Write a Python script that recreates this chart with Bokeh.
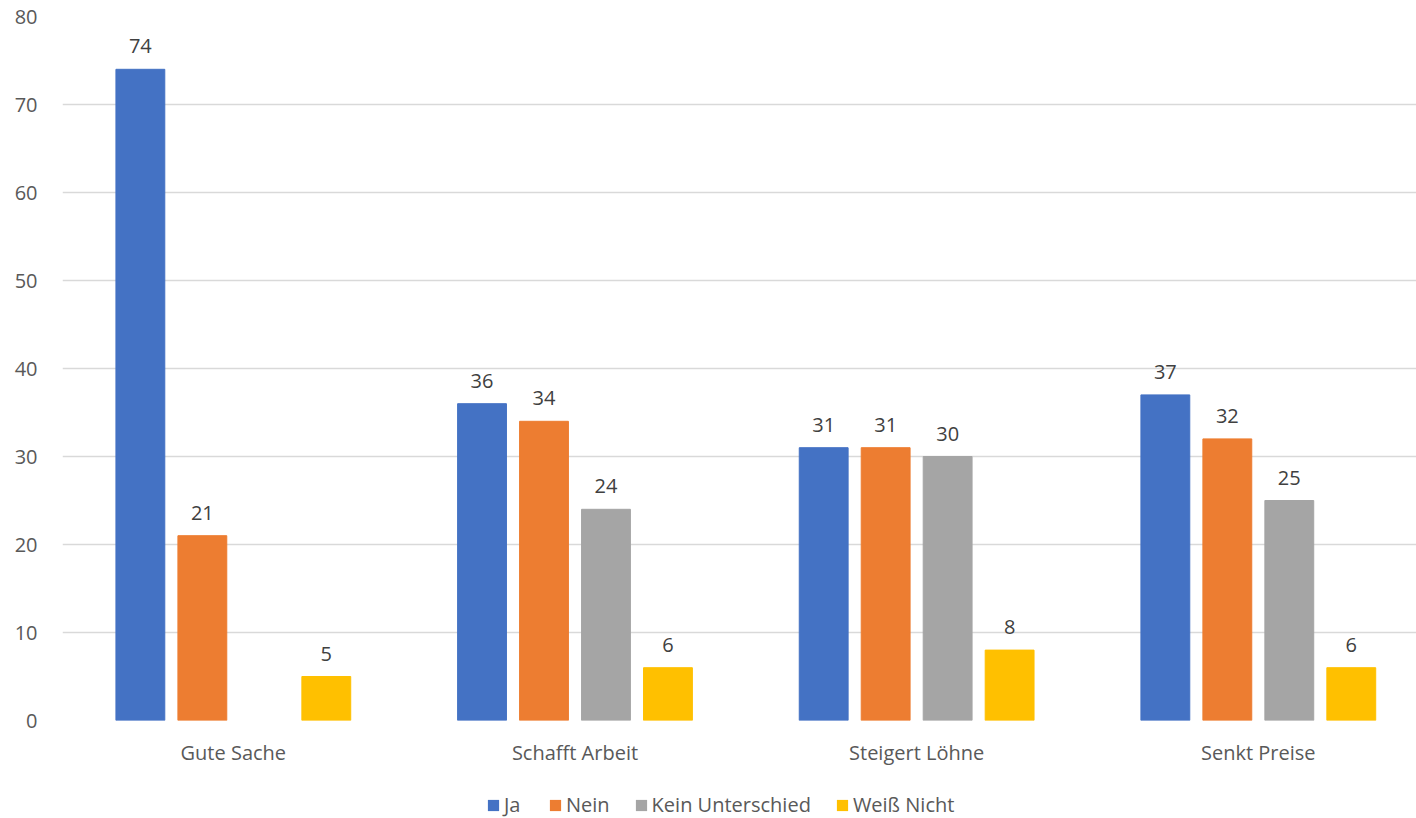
from bokeh.plotting import figure
from bokeh.layouts import column
from bokeh.models import ColumnDataSource, Legend, LegendItem, FixedTicker, Range1d
from bokeh.embed import file_html
from bokeh.resources import INLINE
from bokeh.core.properties import value
import math

categories = ["Gute Sache", "Schafft Arbeit", "Steigert Löhne", "Senkt Preise"]
series_names = ["Ja", "Nein", "Kein Unterschied", "Weiß Nicht"]
ja = [74, 36, 31, 37]
nein = [21, 34, 31, 32]
kein_unterschied = [float("nan"), 24, 30, 25]
weiss_nicht = [5, 6, 8, 6]
y_ticks = [0, 10, 20, 30, 40, 50, 60, 70, 80]

series_values = [ja, nein, kein_unterschied, weiss_nicht]
colors = ["#4472C4", "#ED7D31", "#A5A5A5", "#FFC000"]

FONT = "Open Sans"

p = figure(width=1416, height=770, output_backend="svg", toolbar_location=None,
           x_range=Range1d(0, 3.963), y_range=Range1d(0, 80),
           min_border_left=62, min_border_right=0, min_border_top=16, min_border_bottom=50)
p.outline_line_color = None
p.background_fill_color = "white"

centers = [i + 0.5 for i in range(len(categories))]
step = 0.1814
bw = 0.143
for k, (name, vals, col) in enumerate(zip(series_names, series_values, colors)):
    off = (k - 1.5) * step
    xs = [c + off for c in centers]
    src = ColumnDataSource(dict(x=xs, top=vals))
    p.vbar(x="x", top="top", width=bw, source=src, fill_color=col, line_color=col)
    lx = [x for x, v in zip(xs, vals) if not math.isnan(v)]
    lv = [v for v in vals if not math.isnan(v)]
    lsrc = ColumnDataSource(dict(x=lx, y=lv, t=[str(int(v)) for v in lv]))
    p.text(x="x", y="y", text="t", source=lsrc, text_align="center", text_baseline="bottom",
           y_offset=-16, text_font=value(FONT), text_font_size="20px", text_color="#404040")

p.xaxis.ticker = FixedTicker(ticks=centers)
p.xaxis.major_label_overrides = {c: n for c, n in zip(centers, categories)}
p.yaxis.ticker = FixedTicker(ticks=y_ticks)
for ax in (p.xaxis, p.yaxis):
    ax.axis_line_color = None
    ax.major_tick_line_color = None
    ax.minor_tick_line_color = None
    ax.major_label_text_font = FONT
    ax.major_label_text_font_size = "20px"
    ax.major_label_text_color = "#595959"
p.xaxis.major_label_standoff = 12
p.yaxis.major_label_standoff = 19
p.xgrid.grid_line_color = None
p.ygrid.ticker = FixedTicker(ticks=y_ticks)
p.ygrid.grid_line_color = "#D9D9D9"
p.ygrid.grid_line_width = 1.5

# legend strip below the chart (its renderers are zero-height and draw nothing)
lg = figure(width=1416, height=48, output_backend="svg", toolbar_location=None,
            x_range=Range1d(0, 1), y_range=Range1d(0, 1),
            min_border_left=0, min_border_right=0, min_border_top=0, min_border_bottom=0)
lg.outline_line_color = None
lg.axis.visible = False
lg.grid.visible = False
items = []
for name, col in zip(series_names, colors):
    r = lg.vbar(x=[0.5], top=[-5], bottom=[-5], width=0.1, fill_color=col, line_color=None)
    items.append(LegendItem(label=name, renderers=[r], index=0))
legend = Legend(items=items, orientation="horizontal", location=(424, 0),
                label_text_font=FONT, label_text_font_size="20px", label_text_color="#595959",
                glyph_width=14, glyph_height=14, label_standoff=4, spacing=24, label_height=20,
                border_line_color=None, background_fill_alpha=0, margin=0, padding=0)
lg.add_layout(legend, "center")

open("out.html", "w").write(file_html(column(p, lg, spacing=0), INLINE))
